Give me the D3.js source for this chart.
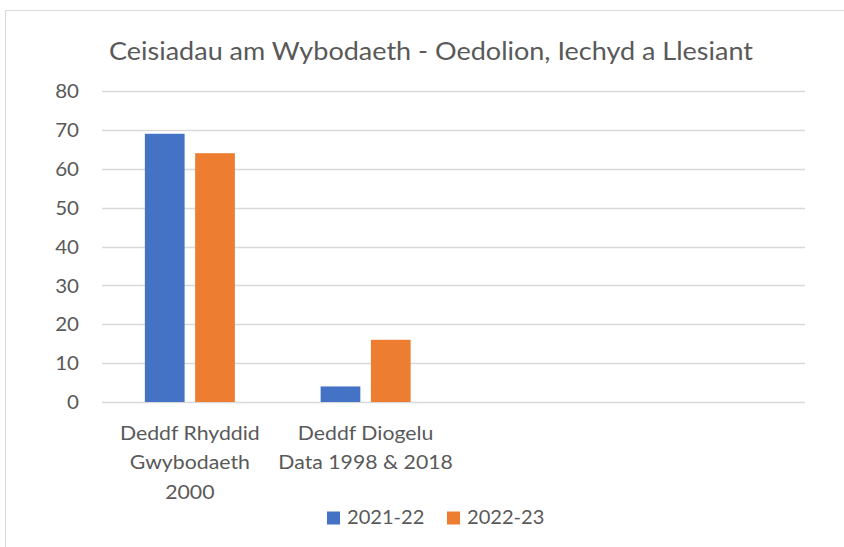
<!DOCTYPE html>
<html><head><meta charset="utf-8">
<script src="https://cdn.jsdelivr.net/npm/d3@7"></script>
<style>body{margin:0;background:#fff}svg{display:block}text{font-family:Lato,"Open Sans",sans-serif;fill:#595959}</style>
</head><body><svg id="c" width="844" height="547"></svg>
<script>
const title = "Ceisiadau am Wybodaeth - Oedolion, Iechyd a Llesiant";
const categories = ["cat1", "cat2", "cat3", "cat4"];
const categoryLabels = [["Deddf Rhyddid","Gwybodaeth","2000"],["Deddf Diogelu","Data 1998 & 2018"],[],[]];
const seriesNames = ["2021-22", "2022-23"];
const values2021 = [69, 4, null, null];
const values2022 = [64, 16, null, null];
const yTicks = [0,10,20,30,40,50,60,70,80];
const colors = ["#4472C4", "#ED7D31"];

const svg = d3.select("#c");
svg.append("rect").attr("x",5.5).attr("y",10.5).attr("width",900).attr("height",600)
  .attr("fill","none").attr("stroke","#D9D9D9").attr("stroke-width",1);

// horizontal stretch to mimic the reference's wider glyphs
function stretch(sel, k){
  sel.each(function(){
    const w = this.getComputedTextLength();
    if (w>0) d3.select(this).attr("textLength", w*k).attr("lengthAdjust","spacingAndGlyphs");
  });
}

const plotL=102, plotR=805, plotT=91, plotB=402;
const x = d3.scaleBand().domain(categories).range([plotL,plotR]);
const y = d3.scaleLinear().domain([0,80]).range([plotB,plotT]);
const inner = d3.scaleBand().domain(seriesNames).range([0,90]).paddingInner(0.21);

// gridlines
svg.append("g").selectAll("line").data(yTicks).join("line")
  .attr("x1",plotL).attr("x2",plotR).attr("y1",d=>Math.round(y(d))+0.5).attr("y2",d=>Math.round(y(d))+0.5)
  .attr("stroke","#D9D9D9").attr("stroke-width",1.3);

// y labels
const yAxis = d3.axisLeft(y).tickValues(yTicks).tickSize(0).tickPadding(0);
const ga = svg.append("g").attr("transform",`translate(79,0)`).call(yAxis);
ga.select(".domain").remove();
ga.selectAll("text").attr("font-size",18.5).style("fill","#595959").attr("dy","0.36em")
  .style("font-family",'Lato,"Open Sans",sans-serif').call(stretch, 1.11);

// bars
const data = [values2021, values2022];
seriesNames.forEach((s,si)=>{
  svg.append("g").selectAll("rect").data(categories.map((c,i)=>({c,v:data[si][i]})).filter(d=>d.v!=null))
    .join("rect")
    .attr("x",d=>x(d.c)+x.bandwidth()/2-45+inner(s))
    .attr("width",inner.bandwidth())
    .attr("y",d=>y(d.v)).attr("height",d=>y(0)-y(d.v))
    .attr("fill",colors[si]);
});

// category labels
categories.forEach((c,i)=>{
  categoryLabels[i].forEach((ln,j)=>{
    svg.append("text").attr("text-anchor","middle").attr("font-size",19.5)
      .attr("x",x(c)+x.bandwidth()/2).attr("y",440+j*29.3).text(ln).call(stretch, 1.09);
  });
});

// title
svg.append("text").attr("x",431).attr("y",59.5).attr("text-anchor","middle").attr("font-size",25.5)
  .text(title).attr("textLength",644).attr("lengthAdjust","spacingAndGlyphs");

// legend
const lg = svg.append("g");
const legendX = [327, 447];
seriesNames.forEach((s,i)=>{
  lg.append("rect").attr("x",legendX[i]).attr("y",511.5).attr("width",13).attr("height",13).attr("fill",colors[i]);
  lg.append("text").attr("x",legendX[i]+20).attr("y",524.3).attr("font-size",19.5).text(s).call(stretch, 1.03);
});
</script></body></html>
